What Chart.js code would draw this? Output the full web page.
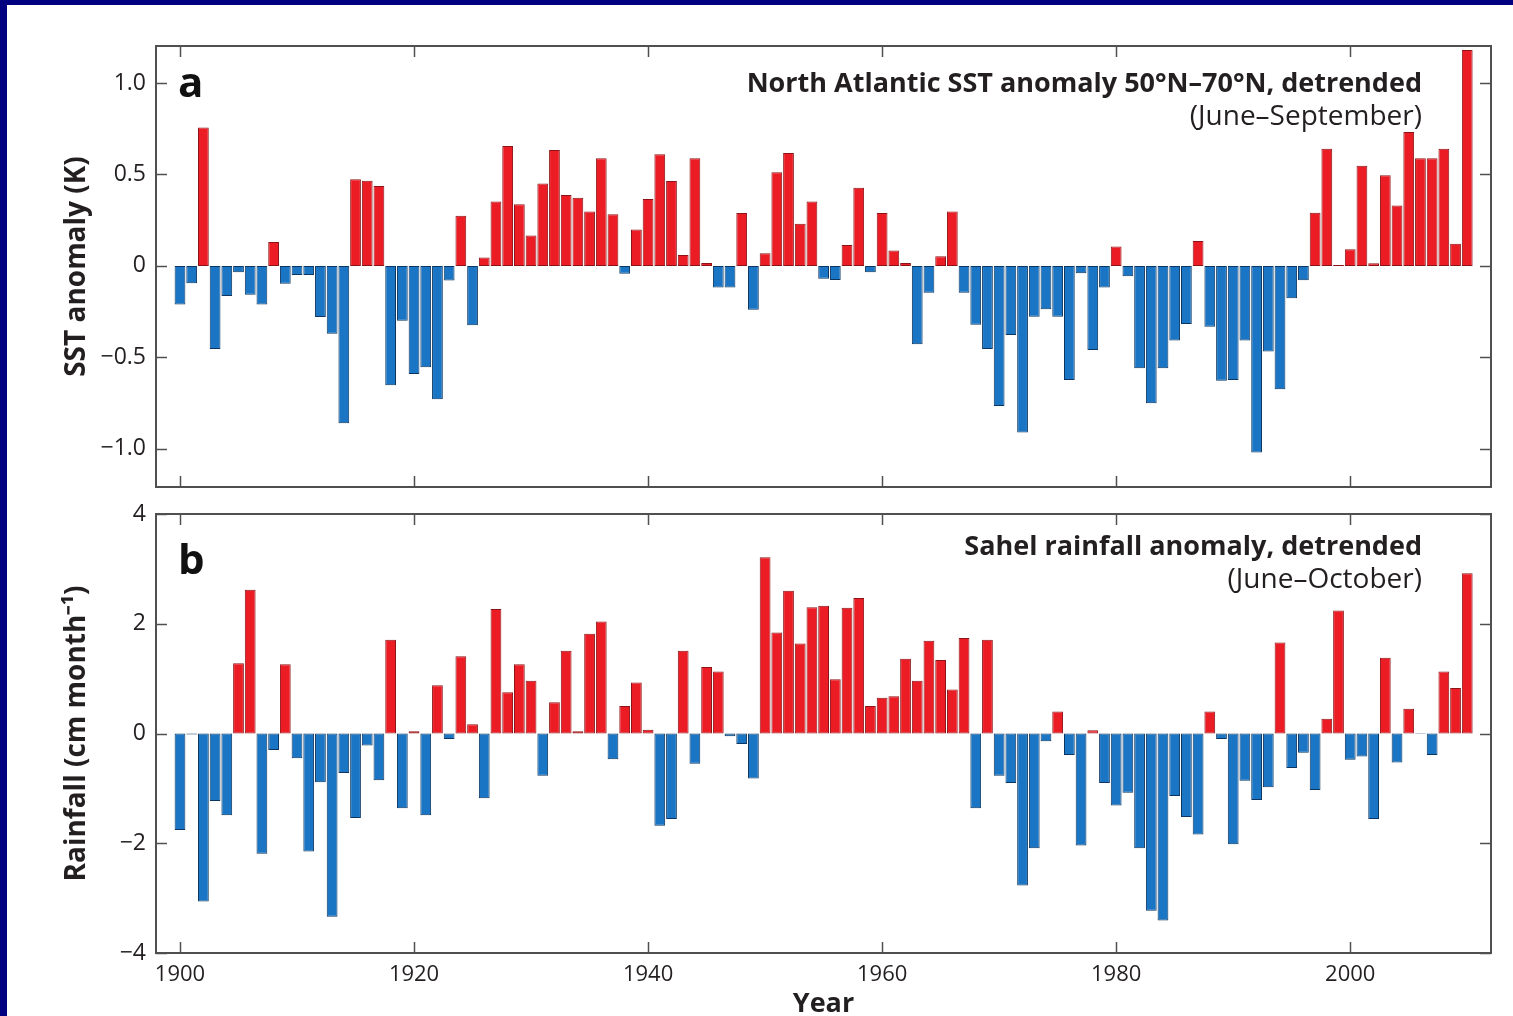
<!DOCTYPE html>
<html>
<head>
<meta charset="utf-8">
<script src="https://cdn.jsdelivr.net/npm/chart.js@4.4.0/dist/chart.umd.min.js"></script>
<style>
    html, body { margin: 0; padding: 0; width: 1513px; height: 1016px; overflow: hidden; background: #000080; }
    #page { position: absolute; left: 7px; top: 5px; right: 0; bottom: 0; background: #fff; }
    canvas { position: absolute; left: 0; }
    #sstChart { top: 0; }
    #rainChart { top: 500px; }
    .letter { position: absolute; font: bold 42px "Open Sans", sans-serif; color: #111; line-height: 1; }
    .title { position: absolute; right: 91px; text-align: right; color: #231f20; font-family: "Open Sans", sans-serif; font-size: 28px; line-height: 33px; white-space: nowrap; }
    .title b { font-weight: 700; font-size: 27px; }
</style>
</head>
<body>
<div id="page"></div>
<canvas id="sstChart" width="1513" height="500"></canvas>
<canvas id="rainChart" width="1513" height="540"></canvas>
<div class="letter" style="left:178px; top:60px">a</div>
<div class="letter" style="left:178px; top:537px">b</div>
<div class="title" style="top:65px"><b>North Atlantic SST anomaly 50°N–70°N, detrended</b><br>(June–September)</div>
<div class="title" style="top:528px"><b>Sahel rainfall anomaly, detrended</b><br>(June–October)</div>

<script>
const firstYear = 1900
const lastYear  = 2010
const years     = Array.from({length: lastYear - firstYear + 1}, (_, i) => firstYear + i)

// North Atlantic SST anomaly 50N-70N, detrended, June-September (K)
const sstAnomaly = [
    -0.21, -0.095, 0.756, -0.454, -0.164, -0.035, -0.157, -0.21, 0.131, -0.097,
    -0.049, -0.049, -0.279, -0.37, -0.86, 0.474, 0.466, 0.437, -0.652, -0.30,
    -0.59, -0.554, -0.729, -0.08, 0.275, -0.324, 0.046, 0.352, 0.656, 0.337,
    0.166, 0.45, 0.634, 0.388, 0.373, 0.297, 0.588, 0.282, -0.042, 0.199,
    0.366, 0.61, 0.464, 0.06, 0.588, 0.016, -0.118, -0.118, 0.29, -0.24,
    0.069, 0.512, 0.617, 0.231, 0.352, -0.07, -0.077, 0.115, 0.428, -0.035,
    0.29, 0.084, 0.016, -0.428, -0.146, 0.053, 0.297, -0.146, -0.322, -0.454,
    -0.766, -0.377, -0.91, -0.277, -0.237, -0.277, -0.623, -0.04, -0.459, -0.118,
    0.106, -0.056, -0.559, -0.75, -0.559, -0.408, -0.317, 0.137, -0.332, -0.628,
    -0.623, -0.408, -1.02, -0.468, -0.674, -0.177, -0.078, 0.291, 0.641, 0.005,
    0.091, 0.548, 0.015, 0.495, 0.33, 0.732, 0.588, 0.588, 0.641, 0.122, 1.18
]

// Sahel rainfall anomaly, detrended, June-October (cm/month)
const rainAnomaly = [
    -1.76, -0.02, -3.06, -1.23, -1.49, 1.28, 2.62, -2.19, -0.30, 1.26,
    -0.45, -2.15, -0.89, -3.34, -0.72, -1.54, -0.22, -0.85, 1.71, -1.36,
    0.04, -1.49, 0.88, -0.10, 1.41, 0.17, -1.18, 2.27, 0.75, 1.26,
    0.96, -0.77, 0.57, 1.51, 0.04, 1.82, 2.04, -0.47, 0.50, 0.93,
    0.07, -1.68, -1.56, 1.51, -0.55, 1.21, 1.13, -0.05, -0.19, -0.82,
    3.21, 1.84, 2.60, 1.64, 2.30, 2.33, 0.99, 2.29, 2.47, 0.50,
    0.65, 0.68, 1.36, 0.96, 1.69, 1.34, 0.80, 1.74, -1.36, 1.71,
    -0.77, -0.90, -2.77, -2.09, -0.14, 0.40, -0.39, -2.04, 0.06, -0.90,
    -1.31, -1.08, -2.09, -3.23, -3.41, -1.14, -1.52, -1.84, 0.40, -0.10,
    -2.02, -0.86, -1.21, -0.98, 1.66, -0.63, -0.35, -1.03, 0.27, 2.24,
    -0.48, -0.42, -1.56, 1.38, -0.53, 0.45, -0.01, -0.39, 1.13, 0.83, 2.92
]

const yearTicks       = [1900, 1920, 1940, 1960, 1980, 2000]
const yearTickLabels  = ['1900', '1920', '1940', '1960', '1980', '2000']
const sstTicks        = [-1, -0.5, 0, 0.5, 1]
const sstTickLabels   = ['−1.0', '−0.5', '0', '0.5', '1.0']
const rainTicks       = [-4, -2, 0, 2, 4]
const rainTickLabels  = ['−4', '−2', '0', '2', '4']

const RED        = '#ec1c24'
const RED_EDGE   = '#8c1418'
const BLUE       = '#1a76c4'
const BLUE_EDGE  = '#0c3560'
const TEXT       = '#231f20'
const FRAME      = '#505050'
const TICK_LEN   = 11

Chart.defaults.font.family = '"Open Sans", sans-serif'
Chart.defaults.color       = TEXT
Chart.defaults.animation   = false

// box round the plot area with inward ticks on all four sides, like the original figure
const framePlugin = {
    id: 'frame',
    afterDatasetsDraw(chart) {
        const {ctx, chartArea: {left, right, top, bottom}, scales: {x, y}} = chart

        ctx.save()
        ctx.strokeStyle = FRAME
        ctx.lineWidth   = 2
        ctx.strokeRect(left, top, right - left, bottom - top)

        ctx.lineWidth = 1.5
        ctx.beginPath()
        x.ticks.forEach(({value}) => {
            const px = Math.round(x.getPixelForValue(value)) + 0.5
            ctx.moveTo(px, bottom)
            ctx.lineTo(px, bottom - TICK_LEN)
            ctx.moveTo(px, top)
            ctx.lineTo(px, top + TICK_LEN)
        })
        y.ticks.forEach(({value}) => {
            const py = Math.round(y.getPixelForValue(value)) + 0.5
            ctx.moveTo(left, py)
            ctx.lineTo(left + TICK_LEN, py)
            ctx.moveTo(right, py)
            ctx.lineTo(right - TICK_LEN, py)
        })
        ctx.stroke()
        ctx.restore()
    }
}

function fixedSize(size) {
    return scale => {
        if (scale.isHorizontal()) {
            scale.height = size
        } else {
            scale.width = size
        }
        scale.paddingTop    = 0
        scale.paddingBottom = 0
        scale.paddingLeft   = 0
        scale.paddingRight  = 0
    }
}

function makeChart(canvasId, values, opts) {
    return new Chart(document.getElementById(canvasId), {
        type   : 'bar',
        data   : {
            datasets: [{
                data              : years.map((year, i) => ({x: year, y: values[i]})),
                backgroundColor   : values.map(v => v >= 0 ? RED : BLUE),
                borderColor       : values.map(v => v >= 0 ? RED_EDGE : BLUE_EDGE),
                borderWidth       : 1,
                borderSkipped     : false,
                barPercentage     : 0.92,
                categoryPercentage: 1
            }]
        },
        options: {
            responsive: false,
            layout    : {padding: opts.padding},
            plugins   : {legend: {display: false}, tooltip: {enabled: false}},
            scales    : {
                x: {
                    type           : 'linear',
                    offset         : false,
                    min            : 1897.95,
                    max            : 2012.03,
                    display        : opts.showYears,
                    grid           : {display: false, drawTicks: false, offset: false},
                    border         : {display: false},
                    ticks          : {
                        font         : {size: 22},
                        padding      : 9,
                        maxRotation  : 0,
                        includeBounds: false,
                        callback     : value => yearTickLabels[yearTicks.indexOf(value)]
                    },
                    afterBuildTicks: scale => { scale.ticks = yearTicks.map(value => ({value})) },
                    afterFit       : fixedSize(opts.xHeight),
                    title          : {
                        display: opts.showYears,
                        text   : 'Year',
                        font   : {size: 27, weight: 'bold'},
                        padding: {top: 0, bottom: 19}
                    }
                },
                y: {
                    min            : opts.yMin,
                    max            : opts.yMax,
                    grid           : {display: false, drawTicks: false},
                    border         : {display: false},
                    ticks          : {
                        font    : {size: 23},
                        padding : 10,
                        callback: value => opts.tickLabels[opts.ticks.indexOf(value)]
                    },
                    afterBuildTicks: scale => { scale.ticks = opts.ticks.map(value => ({value})) },
                    afterFit       : fixedSize(156),
                    title          : {
                        display: true,
                        text   : opts.yTitle,
                        font   : {size: 28, weight: 'bold'},
                        padding: {top: 60, bottom: 0}
                    }
                }
            }
        },
        plugins: [framePlugin]
    })
}

window.addEventListener('DOMContentLoaded', function () {
    makeChart('sstChart', sstAnomaly, {
        padding   : {left: 0, right: 22, top: 46, bottom: 13},
        showYears : false,
        xHeight   : 0,
        yMin      : -1.208,
        yMax      : 1.202,
        ticks     : sstTicks,
        tickLabels: sstTickLabels,
        yTitle    : 'SST anomaly (K)'
    })

    makeChart('rainChart', rainAnomaly, {
        padding   : {left: 0, right: 22, top: 14, bottom: 0},
        showYears : true,
        xHeight   : 87,
        yMin      : -4,
        yMax      : 4,
        ticks     : rainTicks,
        tickLabels: rainTickLabels,
        yTitle    : 'Rainfall (cm month⁻¹)'
    })
})
</script>
</body>
</html>
